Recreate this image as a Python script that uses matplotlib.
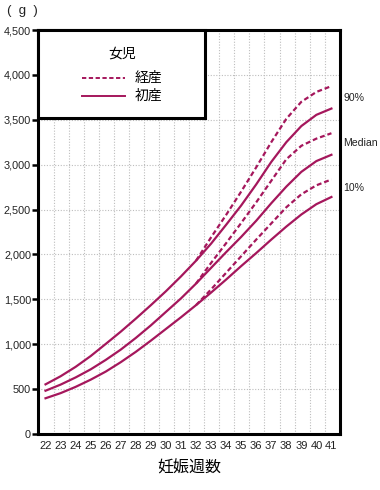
import matplotlib
matplotlib.use("Agg")
import matplotlib.pyplot as plt
from matplotlib.patches import Rectangle
from matplotlib.lines import Line2D
from matplotlib.ticker import FuncFormatter

plt.rcParams['font.family'] = ['Liberation Sans', 'Noto Sans CJK JP', 'DejaVu Sans']

# 在胎週数 (weeks)
weeks = list(range(22, 42))
# 初産 (first birth) percentiles, g
shosan_p90 = [553, 643, 748, 868, 1003, 1140, 1285, 1435, 1590, 1755,
              1930, 2120, 2330, 2545, 2780, 3030, 3250, 3430, 3555, 3625]
shosan_med = [482, 550, 630, 720, 825, 940, 1070, 1210, 1360, 1510,
              1675, 1850, 2025, 2195, 2375, 2570, 2755, 2920, 3040, 3110]
shosan_p10 = [398, 455, 525, 605, 695, 800, 915, 1040, 1170, 1300,
              1435, 1575, 1720, 1870, 2015, 2165, 2310, 2445, 2560, 2640]

# 経産 (multiparous) percentiles, only drawn from week 32
weeks_k = list(range(32, 42))
keisan_p90 = [1930, 2190, 2440, 2700, 2970, 3250, 3510, 3700, 3810, 3875]
keisan_med = [1675, 1905, 2125, 2350, 2580, 2820, 3060, 3210, 3290, 3350]
keisan_p10 = [1435, 1610, 1795, 1980, 2165, 2345, 2525, 2670, 2770, 2835]

yticks = list(range(0, 4501, 500))
pct_labels = ['90%', 'Median', '10%']

col = '#a5175c'
W, H = 380, 490
fig = plt.figure(figsize=(W / 100, H / 100), dpi=100)
ax = fig.add_axes([38 / W, 1 - 434 / H, (340 - 38) / W, (434 - 30) / H])

# grid (dotted), vertical lines sit between the week labels
for w in weeks[:-1]:
    ax.axvline(w + 0.55, color='#bdbdbd', lw=0.8, ls=(0, (1, 1.5)), zorder=1)
for v in yticks[1:-1]:
    ax.axhline(v, color='#bdbdbd', lw=0.8, ls=(0, (1, 1.5)), zorder=1)

for s in [keisan_p90, keisan_med, keisan_p10]:
    ax.plot(weeks_k, s, color=col, lw=1.6, ls=(0, (2.2, 1.3)), zorder=4)
for s in [shosan_p90, shosan_med, shosan_p10]:
    ax.plot(weeks, s, color=col, lw=1.6, zorder=5, solid_joinstyle='round')

ax.set_xlim(21.5, 41.57)
ax.set_ylim(0, 4500)
ax.set_xticks(weeks)
ax.set_yticks(yticks)
ax.yaxis.set_major_formatter(FuncFormatter(lambda v, p: f'{int(v):,}'))
ax.tick_params(axis='y', length=4, width=1.8, pad=1, labelsize=7.8, labelcolor='#222222')
ax.tick_params(axis='x', length=0, pad=5, labelsize=8, labelcolor='#222222')
for sp in ax.spines.values():
    sp.set_linewidth(2.2)
    sp.set_color('black')
ax.set_xlabel('妊娠週数', fontsize=11.5, labelpad=7)

# legend box
ax.add_patch(Rectangle((0, 0.782), 0.553, 0.218, transform=ax.transAxes,
                       facecolor='white', edgecolor='black', lw=2.2, zorder=6, clip_on=False))
ax.text(0.278, 0.943, '女児', transform=ax.transAxes, ha='center', va='center',
        fontsize=10, zorder=7)
ax.add_line(Line2D([0.146, 0.288], [0.881, 0.881], transform=ax.transAxes, color=col,
                   lw=1.4, ls=(0, (2.2, 1.3)), zorder=7))
ax.add_line(Line2D([0.146, 0.288], [0.837, 0.837], transform=ax.transAxes, color=col,
                   lw=1.4, zorder=7))
ax.text(0.321, 0.881, '経産', transform=ax.transAxes, ha='left', va='center', fontsize=10, zorder=7)
ax.text(0.321, 0.837, '初産', transform=ax.transAxes, ha='left', va='center', fontsize=10, zorder=7)

for lab, yy in zip(pct_labels, [98, 143, 188]):
    fig.text(343 / W, 1 - yy / H, lab, ha='left', va='center', fontsize=7.6, color='#222222')
fig.text(22 / W, 1 - 11 / H, '(  g  )', ha='center', va='center', fontsize=9.5, color='#222222')

fig.savefig('out.png', dpi=100)
